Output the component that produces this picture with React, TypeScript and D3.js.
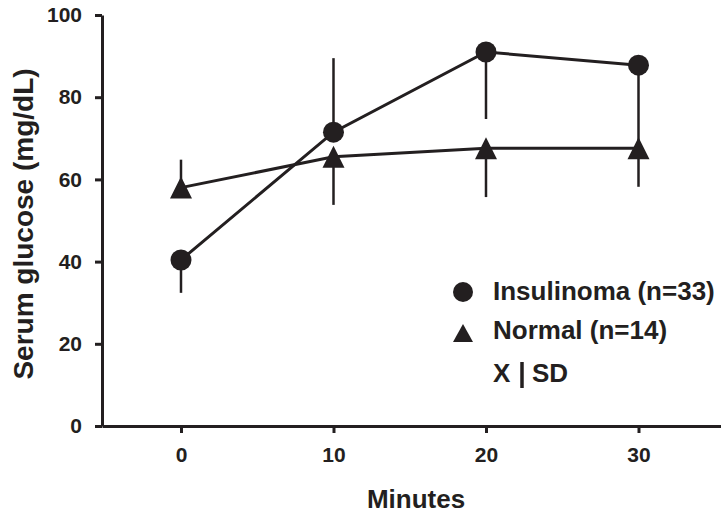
import React, { useRef, useEffect } from "react";
import * as d3 from "d3";

// values
const minutes = [0, 10, 20, 30];
const insulinomaMean = [40.4, 71.5, 91, 87.8];
const insulinomaSD = [8, 18, 16.3, 19.4];
const insulinomaDir = [-1, 1, -1, -1]; // one-sided SD bars: 1 = up, -1 = down
const normalMean = [58, 65.5, 67.6, 67.6];
const normalSD = [6.8, 11.7, 11.9, 9.4];
const normalDir = [1, -1, -1, -1];
const xTicks = [0, 10, 20, 30];
const yTicks = [0, 20, 40, 60, 80, 100];

const INK = "#231f20";
const FONT = "'Liberation Sans', Arial, Helvetica, sans-serif";

// triangle centred on its bounding box
const triangle = (w: number, h: number) =>
  `M0,${-h / 2}L${w / 2},${h / 2}L${-w / 2},${h / 2}Z`;
const circle = (r: number) => d3.symbol().type(d3.symbolCircle).size(Math.PI * r * r)() as string;

const App = () => {
  const container = useRef<SVGSVGElement | null>(null);

  const width = 721;
  const height = 517;

  useEffect(() => {
    const svg = d3.select(container.current);
    svg.selectAll("*").remove();

    const x = d3.scaleLinear().domain([-5.18, 35.41]).range([102, 721]);
    const y = d3.scaleLinear().domain([0, 100]).range([426, 15]);

    // axes
    const yAxis = svg
      .append("g")
      .attr("transform", `translate(${x(-5.18)},0)`)
      .call(d3.axisLeft(y).tickValues(yTicks).tickSize(7).tickSizeOuter(0).tickPadding(13));
    yAxis.select(".domain").attr("stroke", INK).attr("stroke-width", 3);
    yAxis.selectAll(".tick line").attr("stroke", INK).attr("stroke-width", 3);
    yAxis
      .selectAll(".tick text")
      .attr("fill", INK)
      .style("font-family", FONT)
      .style("font-weight", "bold")
      .style("font-size", "21px");

    const xAxis = svg
      .append("g")
      .attr("transform", `translate(0,${y(0)})`)
      .call(d3.axisBottom(x).tickValues(xTicks).tickSize(7).tickSizeOuter(0).tickPadding(14));
    xAxis.select(".domain").attr("stroke", INK).attr("stroke-width", 3);
    xAxis.selectAll(".tick line").attr("stroke", INK).attr("stroke-width", 3);
    xAxis
      .selectAll(".tick text")
      .attr("fill", INK)
      .style("font-family", FONT)
      .style("font-weight", "bold")
      .style("font-size", "21px");

    // axis titles
    svg
      .append("text")
      .attr("transform", `translate(33,224) rotate(-90)`)
      .attr("text-anchor", "middle")
      .attr("fill", INK)
      .style("font-family", FONT)
      .style("font-weight", "bold")
      .style("font-size", "28px")
      .text("Serum glucose (mg/dL)");

    svg
      .append("text")
      .attr("x", 416)
      .attr("y", 508)
      .attr("text-anchor", "middle")
      .attr("fill", INK)
      .style("font-family", FONT)
      .style("font-weight", "bold")
      .style("font-size", "26px")
      .text("Minutes");

    const series = [
      { mean: insulinomaMean, sd: insulinomaSD, dir: insulinomaDir, marker: circle(10.5) },
      { mean: normalMean, sd: normalSD, dir: normalDir, marker: triangle(22, 22) },
    ];

    const line = d3
      .line<number>()
      .x((d, i) => x(minutes[i]))
      .y((d) => y(d));

    series.forEach((s) => {
      // SD bars
      svg
        .append("g")
        .selectAll("line")
        .data(s.mean)
        .enter()
        .append("line")
        .attr("x1", (d, i) => x(minutes[i]))
        .attr("x2", (d, i) => x(minutes[i]))
        .attr("y1", (d) => y(d))
        .attr("y2", (d, i) => y(d + s.dir[i] * s.sd[i]))
        .attr("stroke", INK)
        .attr("stroke-width", 2.5);

      svg
        .append("path")
        .datum(s.mean)
        .attr("d", line)
        .attr("fill", "none")
        .attr("stroke", INK)
        .attr("stroke-width", 3);

      svg
        .append("g")
        .selectAll("path")
        .data(s.mean)
        .enter()
        .append("path")
        .attr("d", s.marker)
        .attr("transform", (d, i) => `translate(${x(minutes[i])},${y(d)})`)
        .attr("fill", INK);
    });

    // legend
    const legend = svg.append("g").attr("transform", "translate(463,0)");
    const items = [
      { label: "Insulinoma (n=33)", marker: circle(10), cy: 292, base: 300 },
      { label: "Normal (n=14)", marker: triangle(20, 18), cy: 333, base: 339 },
    ];
    items.forEach((it) => {
      legend
        .append("path")
        .attr("d", it.marker)
        .attr("transform", `translate(0,${it.cy})`)
        .attr("fill", INK);
      legend
        .append("text")
        .attr("x", 30)
        .attr("y", it.base)
        .attr("fill", INK)
        .style("font-family", FONT)
        .style("font-weight", "bold")
        .style("font-size", "26px")
        .text(it.label);
    });
    legend
      .append("text")
      .attr("x", 30)
      .attr("y", 382)
      .attr("fill", INK)
      .style("font-family", FONT)
      .style("font-weight", "bold")
      .style("font-size", "26px")
      .text("X");
    legend
      .append("line")
      .attr("x1", 59)
      .attr("x2", 59)
      .attr("y1", 362)
      .attr("y2", 388)
      .attr("stroke", INK)
      .attr("stroke-width", 3.5);
    legend
      .append("text")
      .attr("x", 69)
      .attr("y", 382)
      .attr("fill", INK)
      .style("font-family", FONT)
      .style("font-weight", "bold")
      .style("font-size", "26px")
      .text("SD");
  }, []);

  return (
    <svg
      ref={container}
      width={width}
      height={height}
      style={{ position: "absolute", left: 0, top: 0, background: "#fff" }}
    />
  );
};

export default App;
